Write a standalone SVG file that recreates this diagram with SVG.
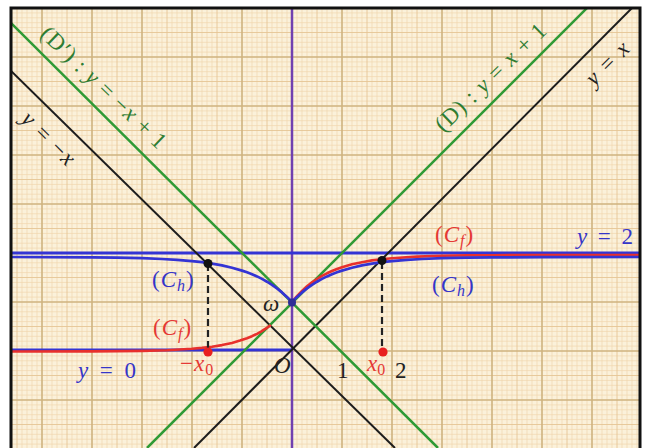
<svg xmlns="http://www.w3.org/2000/svg" width="648" height="448" viewBox="0 0 648 448">
<defs>
<style>
.blk{stroke:#1c1c1c;stroke-width:2;fill:none}
.grn{stroke:#2f9a35;stroke-width:2.5;fill:none}
.blu{stroke:#3434d4;stroke-width:3;fill:none}
.bcurve{stroke:#3434d4;stroke-width:2.7;fill:none;stroke-linejoin:round}
.red{stroke:#e8302c;stroke-width:2.6;fill:none;stroke-linejoin:round;stroke-linecap:round}
.dash{stroke:#222;stroke-width:2.2;stroke-dasharray:7 4;fill:none}
text{font-family:"Liberation Serif","DejaVu Serif",serif;font-size:23px}
.it{font-style:italic}
.g{fill:#2e7d32}
.r{fill:#e53935}
.b{fill:#3535c8}
.k{fill:#222}
</style>
<pattern id="grid" x="292" y="351" width="50" height="49" patternUnits="userSpaceOnUse">
<rect width="50" height="49" fill="#fbf1da"/>
<path d="M5 0V49M10 0V49M15 0V49M20 0V49M30 0V49M35 0V49M40 0V49M45 0V49M0 4.9H50M0 9.8H50M0 14.7H50M0 19.6H50M0 29.4H50M0 34.3H50M0 39.2H50M0 44.1H50" stroke="#f1d6ae" stroke-width="0.7"/>
<path d="M25 0V49M0 24.5H50" stroke="#e5c595" stroke-width="0.9"/>
<path d="M0 0V49M50 0V49M0 0H50M0 49H50" stroke="#cfb37f" stroke-width="1.6"/>
</pattern>
<clipPath id="clip"><rect x="12" y="9" width="627" height="440"/></clipPath>
</defs>
<rect width="648" height="448" fill="#ffffff"/>
<rect id="paper" x="11" y="8" width="629" height="445" fill="url(#grid)"/>
<g id="connectors" clip-path="url(#clip)">
<line id="y-axis" x1="292" y1="8" x2="292" y2="448" stroke="#7040b0" stroke-width="2.5"/>
<line id="asym-y2" x1="12" y1="253" x2="639" y2="253" class="blu"/>
<line id="asym-y0" x1="12" y1="350" x2="292" y2="350" class="blu"/>
<line id="line-y-x" x1="194" y1="448" x2="632" y2="8" class="blk"/>
<line id="line-y-minus-x" x1="10" y1="70" x2="395" y2="448" class="blk"/>
<line id="line-D" x1="147" y1="448" x2="587" y2="8" class="grn"/>
<line id="line-Dp" x1="8" y1="20" x2="438" y2="448" class="grn"/>
<path id="Cf-left" class="red" d="M12 351.5 L92 351.4 L142 350.9 L167 350.2 L192 348.8 L202 347.9 L212 346.7 L222 345.1 L232 342.9 L240 340.6 L247 338.2 L252 336.2 L257 333.8 L261 331.6 L264 329.7 L267 327.8 L270 325.6"/>
<path id="Cf-right" class="red" d="M292 302 L297 296.1 L302 290.9 L307 286.3 L312 282.4 L317 279 L322 275.9 L327 273.3 L332 271 L337 269 L342 267.2 L352 264.3 L362 262.2 L372 260.4 L382 259.2 L392 258.2 L417 256.6 L442 255.8 L467 255.4 L492 255.2 L542 255.05 L640 255"/>
<path id="Ch" class="bcurve" d="M12 257 L92 257.4 L117 257.6 L142 258.2 L162 259 L177 259.9 L192 261.1 L202 262.2 L212 263.6 L222 265.4 L232 267.8 L242 270.6 L247 272.3 L252 274.2 L257 276.4 L262 278.9 L267 281.7 L272 284.8 L277 288.4 L282 292.4 L287 296.9 L292 302 L297 296.9 L302 292.4 L307 288.4 L312 284.8 L317 281.7 L322 278.9 L327 276.4 L332 274.2 L337 272.3 L342 270.6 L352 267.8 L362 265.4 L372 263.6 L382 262.2 L392 261.1 L407 259.9 L422 259 L442 258.2 L467 257.6 L492 257.4 L542 257.1 L640 257"/>
<line id="dash-left" x1="208" y1="264" x2="208" y2="350" class="dash"/>
<line id="dash-right" x1="382" y1="262" x2="382" y2="346" class="dash"/>
</g>
<g id="points">
<circle id="pt-left" cx="208" cy="263.5" r="4.5" fill="#111"/>
<circle id="pt-right" cx="382" cy="260.5" r="4.5" fill="#111"/>
<circle id="pt-omega" cx="292" cy="302.5" r="4" fill="#2e2e96"/>
<circle id="pt-mx0" cx="208" cy="352" r="4.6" fill="#e82020"/>
<circle id="pt-x0" cx="383" cy="352" r="4.6" fill="#e82020"/>
</g>
<g id="labels">
<text class="g" transform="translate(104,87) rotate(44)" x="0" y="8" font-size="24" text-anchor="middle" textLength="165" lengthAdjust="spacing">(D′) : <tspan class="it">y</tspan> = −<tspan class="it">x</tspan> + 1</text>
<text class="g" transform="translate(490,77) rotate(-44)" x="0" y="8" font-size="24" text-anchor="middle" textLength="145" lengthAdjust="spacing">(D) : <tspan class="it">y</tspan> = <tspan class="it">x</tspan> + 1</text>
<text class="k" transform="translate(607,63) rotate(-45)" x="0" y="8" font-size="24" text-anchor="middle" textLength="52" lengthAdjust="spacing"><tspan class="it">y</tspan> = <tspan class="it">x</tspan></text>
<text class="k" transform="translate(49,138) rotate(45)" x="0" y="8" font-size="24" text-anchor="middle" textLength="66" lengthAdjust="spacing"><tspan class="it">y</tspan> = −<tspan class="it">x</tspan></text>
<text class="r" x="435" y="242" font-size="25" letter-spacing="1">(<tspan class="it">C</tspan><tspan class="it" font-size="16" dy="4">f</tspan><tspan dy="-4">)</tspan></text>
<text class="b" x="432" y="292" font-size="25" letter-spacing="1">(<tspan class="it">C</tspan><tspan class="it" font-size="16" dy="4">h</tspan><tspan dy="-4">)</tspan></text>
<text class="b" x="152" y="287" font-size="25" letter-spacing="1">(<tspan class="it">C</tspan><tspan class="it" font-size="16" dy="4">h</tspan><tspan dy="-4">)</tspan></text>
<text class="r" x="153" y="335" font-size="25" letter-spacing="1">(<tspan class="it">C</tspan><tspan class="it" font-size="16" dy="4">f</tspan><tspan dy="-4">)</tspan></text>
<text class="b" x="577" y="244" font-size="24" textLength="56" lengthAdjust="spacing"><tspan class="it">y</tspan> = 2</text>
<text class="b" x="78" y="378" font-size="24" textLength="58" lengthAdjust="spacing"><tspan class="it">y</tspan> = 0</text>
<text class="r" x="180" y="371" font-size="24" letter-spacing="1">−<tspan class="it">x</tspan><tspan font-size="16" dy="4">0</tspan></text>
<text class="r" x="367" y="371" font-size="24"><tspan class="it">x</tspan><tspan font-size="16" dy="4">0</tspan></text>
<text class="k" x="395" y="378">2</text>
<text class="k" x="337" y="378">1</text>
<text class="k it" x="274" y="373" font-size="21">O</text>
<text class="k it" x="263" y="311" font-size="22">ω</text>
</g>
<rect id="frame" x="11" y="8" width="629" height="445" fill="none" stroke="#111" stroke-width="3"/>
</svg>
